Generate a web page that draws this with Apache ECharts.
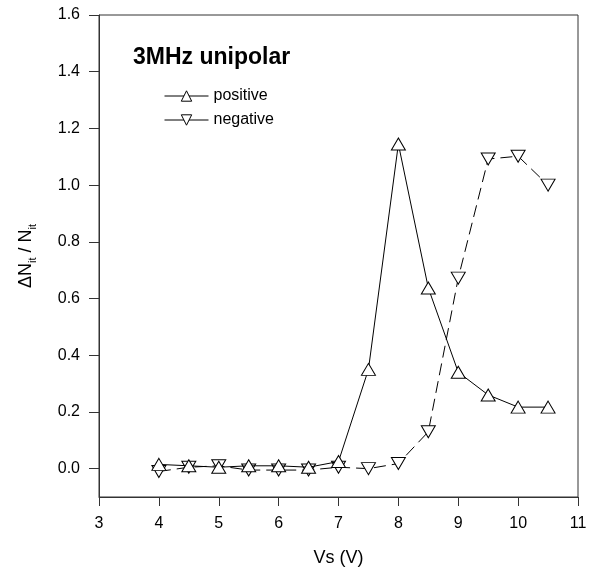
<!DOCTYPE html>
<html>
<head>
<meta charset="utf-8">
<script src="https://cdn.jsdelivr.net/npm/echarts@6/dist/echarts.min.js"></script>
<style>
  html, body { margin: 0; padding: 0; background: #fff; }
  #main { width: 596px; height: 574px; }
</style>
</head>
<body>
<div id="main"></div>
<script>
// Vs (V)
var vs = [4, 4.5, 5, 5.5, 6, 6.5, 7, 7.5, 8, 8.5, 9, 9.5, 10, 10.5];
var positive = [0.015, 0.01, 0.005, 0.01, 0.01, 0.005, 0.025, 0.35, 1.145, 0.637, 0.34, 0.26, 0.217, 0.217];
var negative = [-0.01, 0.005, 0.01, -0.005, -0.005, -0.005, 0.005, 0.0, 0.018, 0.13, 0.672, 1.092, 1.102, 1.0];
var yTicks = [0, 0.2, 0.4, 0.6, 0.8, 1.0, 1.2, 1.4, 1.6];

function pairs(ys) {
    return vs.map(function (x, i) { return [x, ys[i]]; });
}

var myChart = echarts.init(document.getElementById('main'));
var font = 'Liberation Sans, Arial, sans-serif';

option = {
    animation: false,
    backgroundColor: '#fff',
    textStyle: { fontFamily: font },
    grid: {
        left: 99, right: 18, top: 15, bottom: 77,
        show: true, borderColor: '#333', borderWidth: 1
    },
    graphic: [{
        type: 'text',
        left: 133, top: 46,
        style: { text: '3MHz unipolar', font: 'bold 23px ' + font, fill: '#000' }
    }],
    legend: {
        left: 159, top: 83,
        orient: 'vertical',
        itemWidth: 44, itemHeight: 13, itemGap: 8,
        textStyle: { fontSize: 16, color: '#000', fontFamily: font },
        data: [
            { name: 'positive', itemStyle: { borderWidth: 1 }, lineStyle: { width: 1 } },
            { name: 'negative', itemStyle: { borderWidth: 1 }, lineStyle: { width: 1, type: 'solid' } }
        ]
    },
    xAxis: {
        type: 'value',
        min: 3, max: 11, interval: 1,
        name: 'Vs (V)', nameLocation: 'middle', nameGap: 52,
        nameTextStyle: { fontSize: 18, color: '#000' },
        axisLine: { onZero: false, lineStyle: { color: '#333' } },
        axisTick: { show: true, inside: false, length: 9, lineStyle: { color: '#333' } },
        axisLabel: { fontSize: 16, color: '#000', margin: 19 },
        splitLine: { show: false }
    },
    yAxis: {
        type: 'value',
        min: -0.1, max: 1.6,
        name: '{n|ΔN}{s|it}{n| / N}{s|it}',
        nameLocation: 'middle', nameGap: 61, nameRotate: 90,
        nameTextStyle: {
            rich: {
                n: { fontSize: 18, color: '#000', fontFamily: font, lineHeight: 24, verticalAlign: 'middle' },
                s: { fontSize: 11, color: '#000', fontFamily: font, lineHeight: 24, verticalAlign: 'bottom', padding: [8, 0, 0, 0] }
            }
        },
        axisLine: { show: true, lineStyle: { color: '#333' } },
        axisTick: { show: true, length: 10, customValues: yTicks, lineStyle: { color: '#333' } },
        axisLabel: {
            fontSize: 16, color: '#000', margin: 19,
            customValues: yTicks,
            formatter: function (v) { return v.toFixed(1); }
        },
        splitLine: { show: false }
    },
    series: [
        {
            name: 'positive',
            type: 'line',
            data: pairs(positive),
            symbol: 'triangle',
            symbolSize: [14, 12],
            showAllSymbol: true,
            lineStyle: { color: '#000', width: 1 },
            itemStyle: { color: '#fff', borderColor: '#000', borderWidth: 1 },
            z: 3
        },
        {
            name: 'negative',
            type: 'line',
            data: pairs(negative),
            symbol: 'triangle',
            symbolRotate: 180,
            symbolSize: [14, 12],
            showAllSymbol: true,
            lineStyle: { color: '#000', width: 1, type: [12, 6] },
            itemStyle: { color: '#fff', borderColor: '#000', borderWidth: 1 },
            z: 2
        }
    ]
};
myChart.setOption(option);
</script>
</body>
</html>
